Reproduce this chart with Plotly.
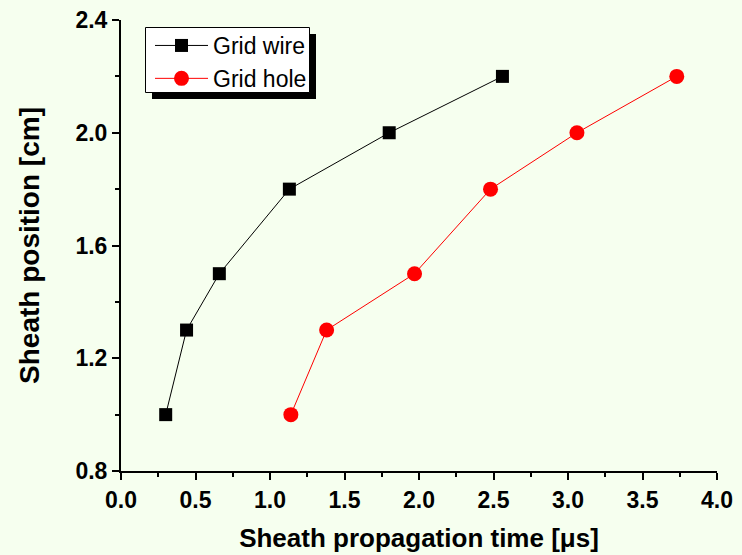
import plotly.graph_objects as go

# Data
position_cm = [1.0, 1.3, 1.5, 1.8, 2.0, 2.2]
time_wire_us = [0.30, 0.44, 0.66, 1.13, 1.80, 2.56]
time_hole_us = [1.14, 1.38, 1.97, 2.48, 3.06, 3.73]

x_ticks = [0.0, 0.5, 1.0, 1.5, 2.0, 2.5, 3.0, 3.5, 4.0]
y_ticks = [0.8, 1.2, 1.6, 2.0, 2.4]

BG = "#F6FFEF"
FONT = "Arial, 'Liberation Sans', sans-serif"

fig = go.Figure()
fig.add_trace(go.Scatter(
    x=time_wire_us, y=position_cm, mode="lines+markers", name="Grid wire",
    line=dict(color="black", width=1),
    marker=dict(symbol="square", size=13, color="black", line=dict(width=0)),
))
fig.add_trace(go.Scatter(
    x=time_hole_us, y=position_cm, mode="lines+markers", name="Grid hole",
    line=dict(color="#FF0000", width=1),
    marker=dict(symbol="circle", size=15, color="#FF0000", line=dict(width=0)),
))

L, R, T, B = 121, 25, 20, 84
W, H = 742, 555
pw, ph = W - L - R, H - T - B

def px(x):
    return (x - L) / pw

def py(y):
    return (H - B - y) / ph

# legend frame: shadow then white box with border
fig.add_shape(type="rect", xref="paper", yref="paper",
              x0=px(152), x1=px(316), y0=py(99), y1=py(34),
              fillcolor="black", line=dict(width=0), layer="above")
fig.add_shape(type="rect", xref="paper", yref="paper",
              x0=px(145.5), x1=px(309.5), y0=py(92.5), y1=py(27.5),
              fillcolor="white", line=dict(width=1, color="black"), layer="above")

def axis_common(size):
    return dict(
        showline=True, linecolor="black", linewidth=2,
        ticks="outside", ticklen=7, tickwidth=2, tickcolor="black",
        showgrid=False, zeroline=False, mirror=False, automargin=False,
        tickfont=dict(family=FONT, size=size, color="black"),
    )

fig.update_xaxes(
    range=[0, 4], tickvals=x_ticks, ticktext=[f"<b>{v:.1f}</b>" for v in x_ticks],
    minor=dict(ticks="outside", ticklen=4, tickwidth=2, tickcolor="black", dtick=0.25, showgrid=False),
    title=dict(text="<b>Sheath propagation time [μs]</b>", standoff=17,
               font=dict(family=FONT, size=26, color="black")),
    **axis_common(23),
)
fig.update_yaxes(
    range=[0.8, 2.4], tickvals=y_ticks, ticktext=[f"<b>{v:.1f}</b>" for v in y_ticks],
    minor=dict(ticks="outside", ticklen=4, tickwidth=2, tickcolor="black", dtick=0.2, tick0=0.8, showgrid=False),
    title=dict(text="<b>Sheath position [cm]</b>", standoff=28,
               font=dict(family=FONT, size=28, color="black")),
    **axis_common(23),
)

fig.update_layout(
    width=W, height=H,
    margin=dict(l=L, r=R, t=T, b=B),
    paper_bgcolor=BG, plot_bgcolor=BG,
    showlegend=True,
    legend=dict(
        x=px(150), y=py(24), xanchor="left", yanchor="top",
        bgcolor="rgba(0,0,0,0)", borderwidth=0,
        font=dict(family=FONT, size=23, color="black"),
        itemwidth=53, tracegroupgap=0,
    ),
)

fig.write_html("out.html")
